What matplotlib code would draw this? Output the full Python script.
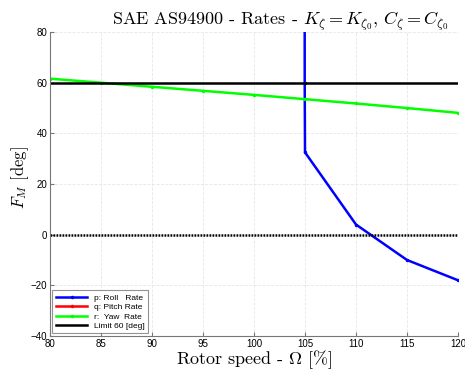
import numpy as np
import matplotlib
matplotlib.use("Agg")
from matplotlib import pyplot as plt

plt.rcParams["mathtext.fontset"] = "cm"
plt.rcParams["font.family"] = ["Liberation Sans", "DejaVu Sans"]

# %% data
rpm = [80, 85, 90, 95, 100, 105, 110, 115, 120]
yaw_rate = [61.6, 60.0, 58.4, 56.8, 55.2, 53.5, 51.8, 50.0, 48.1]

roll_rpm = [104.95, 104.97, 105.0, 110, 115, 120]
roll_rate = [400.0, 60.0, 32.5, 4.0, -10.0, -18.0]

pitch_rpm = [80, 120]
pitch_rate = [np.nan, np.nan]

limit = 60
x_ticks = [80, 85, 90, 95, 100, 105, 110, 115, 120]
y_ticks = [-40, -20, 0, 20, 40, 60, 80]

# %% plot
fig = plt.figure(figsize=(4.65, 3.72), dpi=100)
ax = fig.add_axes([0.1075, 0.0968, 0.8775, 0.817])

lns = ax.plot(roll_rpm, roll_rate, color="#0000ff", lw=1.8, marker=".", ms=3, label="p: Roll   Rate")
lns += ax.plot(pitch_rpm, pitch_rate, color="#ff0000", lw=1.8, marker=".", ms=3, label="q: Pitch Rate")
lns += ax.plot(rpm, yaw_rate, color="#00ff00", lw=1.8, marker=".", ms=3, label="r:  Yaw  Rate")
lns += ax.plot([rpm[0], rpm[-1]], [limit, limit], color="black", lw=1.8, label="Limit 60 [deg]")
ax.plot([rpm[0], rpm[-1]], [0, 0], color="black", lw=1.8, ls=(0, (0.7, 0.5)))

ax.set_xlim(80, 120)
ax.set_ylim(-40, 80)
ax.set_xticks(x_ticks)
ax.set_yticks(y_ticks)
ax.tick_params(direction="in", labelsize=7, length=3, color="#777777", pad=2)
ax.grid(True, color="#e6e6e6", lw=0.6, ls="--")
ax.set_axisbelow(True)
for s in ["top", "right"]:
    ax.spines[s].set_visible(False)
for s in ["left", "bottom"]:
    ax.spines[s].set_color("#777777")

ax.set_xlabel(r"Rotor speed - $\Omega$ [%]", family="cmr10", fontsize=13, labelpad=0)
ax.set_ylabel(r"$F_M$ [deg]", family="cmr10", fontsize=12)
ax.yaxis.set_label_coords(-0.047, 0.52)
fig.text(112 / 465, 1 - 25 / 372, r"SAE AS94900 - Rates - $K_\zeta = K_{\zeta_0}$, $C_\zeta = C_{\zeta_0}$",
         ha="left", va="baseline", family="cmr10", fontsize=13)

leg = ax.legend(handles=lns, loc="lower left", fontsize=6, frameon=True, fancybox=False,
                edgecolor="#777777", handlelength=3.8, borderaxespad=0.3, labelspacing=0.2)
leg.get_frame().set_linewidth(0.8)

fig.savefig("out.png", dpi=100)
